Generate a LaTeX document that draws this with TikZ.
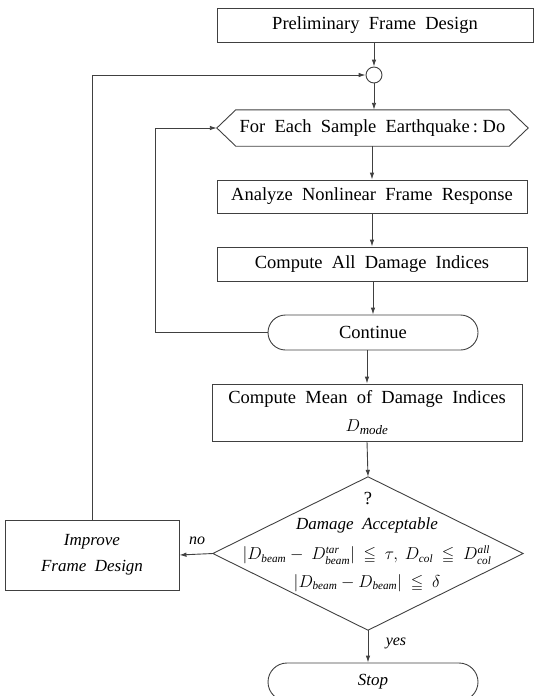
\documentclass[tikz,border=0pt]{standalone}
\usepackage{amssymb}
\usepackage{fontspec}
\setmainfont{Liberation Serif}
\usetikzlibrary{shapes.misc,arrows.meta}
\tikzset{
  ln/.style={draw=black!75, line width=0.9pt},
  arr/.style={ln, -{Latex[length=7pt,width=4.5pt]}},
  boxed/.style={ln, rectangle, inner sep=0pt, font=\fontsize{18.5}{22}\selectfont},
  txt/.style={inner sep=0pt, font=\fontsize{18.5}{22}\selectfont},
  mth/.style={inner sep=0pt, font=\fontsize{16}{19}\selectfont},
  rnd/.style={ln, rounded rectangle, inner sep=0pt, font=\fontsize{18.5}{22}\selectfont},
}
\begin{document}
\begin{tikzpicture}[x=1pt,y=1pt]
\useasboundingbox (0,0) rectangle (533,-696);
% nodes
\node[boxed, minimum width=316, minimum height=34] (pfd) at (375,-25) {Preliminary\ \ Frame\ \ Design};
\node[ln, circle, minimum size=16, inner sep=0pt] (J) at (374,-75) {};
\node[txt, minimum width=311, minimum height=36] (hex) at (372.5,-128) {For\ \ Each\ \ Sample\ \ Earthquake\,:\ Do};
\draw[ln] (hex.west) -- ([xshift=19]hex.north west) -- ([xshift=-19]hex.north east) -- (hex.east)
   -- ([xshift=-19]hex.south east) -- ([xshift=19]hex.south west) -- cycle;
\node[boxed, minimum width=310, minimum height=33] (ana) at (372,-196.5) {Analyze\ \ Nonlinear\ \ Frame\ \ Response};
\node[boxed, minimum width=310, minimum height=34] (all) at (372,-264) {Compute\ \ All\ \ Damage\ \ Indices};
\node[rnd, minimum width=210, minimum height=35] (cont) at (373,-332.5) {Continue};
\node[boxed, minimum width=310, minimum height=57, align=center] (mean) at (367,-412.5)
   {Compute\ \ Mean\ \ of\ \ Damage\ \ Indices\\[6pt] $D_{\mathit{mode}}$};
\node[inner sep=0pt, minimum width=310, minimum height=153] (dia) at (368,-553.5) {};
\draw[ln] (dia.north) -- (dia.east) -- (dia.south) -- (dia.west) -- cycle;
\node[txt] (q) at (368,-499) {?};
\node[txt, font=\itshape\fontsize{17}{20}\selectfont] (dacc) at (367,-525) {Damage\ \ Acceptable};
\node[mth] (c1) at (367,-555) {$|D_{\mathit{beam}}-\ D^{\mathit{tar}}_{\mathit{beam}}|\ \leqq\ \tau,\ D_{\mathit{col}}\ \leqq\ D^{\mathit{all}}_{\mathit{col}}$};
\node[mth] (c2) at (367,-583) {$|D_{\mathit{beam}}-D_{\mathit{beam}}|\ \leqq\ \delta$};
\node[boxed, minimum width=174, minimum height=70, align=center, font=\itshape\fontsize{17}{26}\selectfont] (imp) at (92,-555) {Improve\\Frame\ \ Design};
\node[rnd, minimum width=210, minimum height=38, font=\itshape\fontsize{17}{20}\selectfont] (stop) at (373,-682) {Stop};
\node[txt, font=\itshape\fontsize{16}{20}\selectfont] (no) at (197,-541) {no};
\node[txt, font=\itshape\fontsize{16}{20}\selectfont] (yes) at (396,-643) {yes};
\coordinate (lp) at (155,-332.5);
% connectors
\draw[arr] (pfd.south -| J.north) -- (J.north);
\draw[arr] (J.south) -- (J.south |- hex.north);
\draw[arr] (hex.south -| ana.north) -- (ana.north);
\draw[arr] (ana.south) -- (all.north);
\draw[arr] (all.south -| cont.north) -- (cont.north);
\draw[arr] (cont.south -| mean.north) -- (mean.north);
\draw[arr] (mean.south) -- (dia.north);
\draw[arr] (cont.west) -- (lp) |- (hex.west);
\draw[arr] (dia.west) -- (imp.east);
\draw[arr] (imp.north) |- (J.west);
\draw[arr] (dia.south) -- (dia.south |- stop.north);
\end{tikzpicture}
\end{document}
